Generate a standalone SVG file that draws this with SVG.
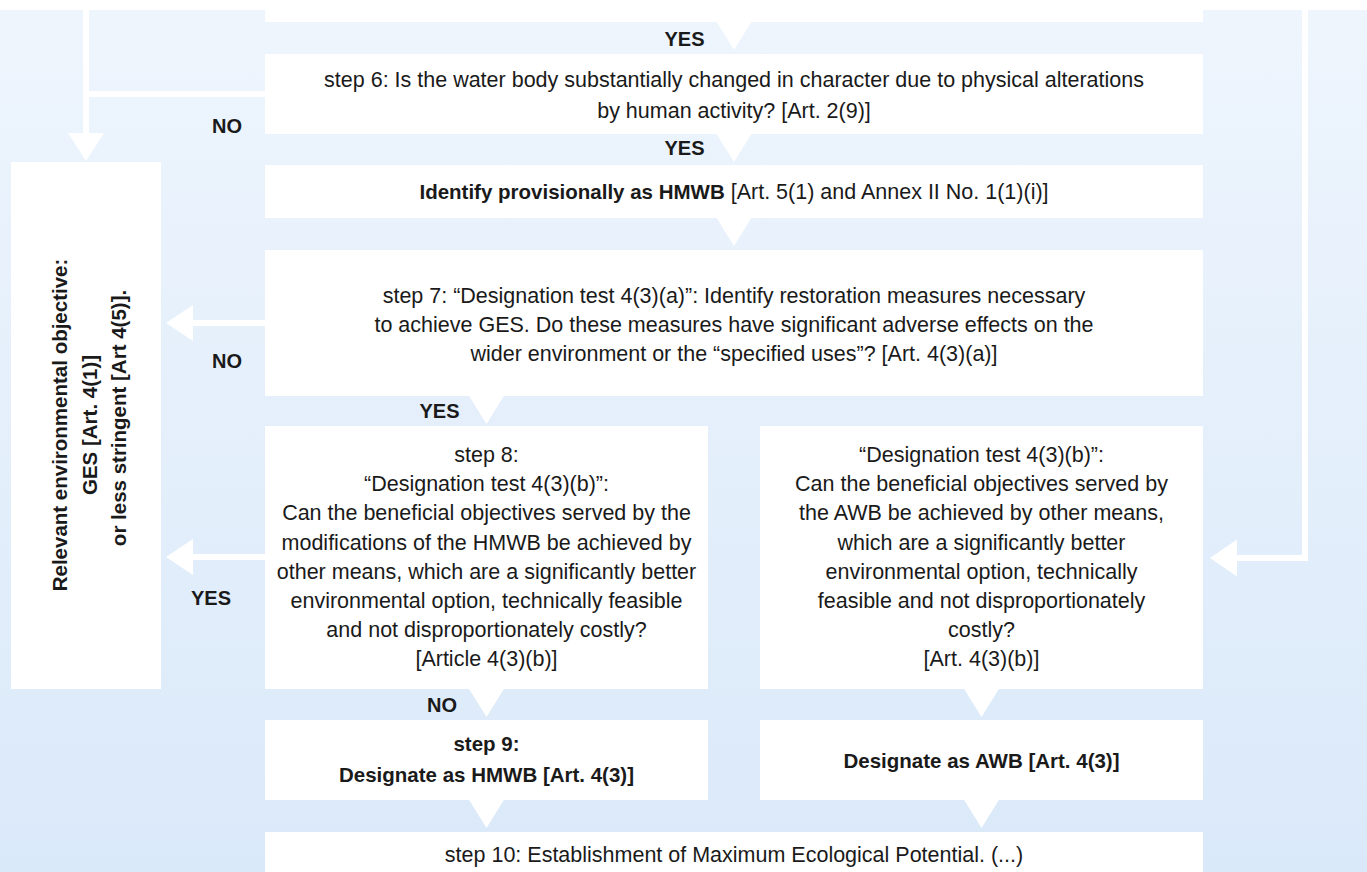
<svg xmlns="http://www.w3.org/2000/svg" width="1367" height="872" viewBox="0 0 1367 872">
<defs>
<linearGradient id="bg" x1="0" y1="0" x2="0" y2="1">
<stop offset="0" stop-color="#eef5fd"/>
<stop offset="1" stop-color="#dae9f9"/>
</linearGradient>
<style>
.box{fill:#ffffff}
.ln{fill:none;stroke:#ffffff;stroke-width:6;stroke-linejoin:miter}
.ah{fill:#ffffff}
.t{font-family:"Liberation Sans",Arial,sans-serif;font-size:21.5px;fill:#1a1a1a;text-anchor:middle}
.b{font-family:"Liberation Sans",Arial,sans-serif;font-size:20.5px;font-weight:bold;fill:#1a1a1a;text-anchor:middle}
.lbl{font-family:"Liberation Sans",Arial,sans-serif;font-size:20px;font-weight:bold;fill:#1a1a1a;text-anchor:middle}
</style>
</defs>
<rect x="0" y="0" width="1367" height="872" fill="#ffffff"/>
<rect x="0" y="10" width="1367" height="862" fill="url(#bg)"/>

<g id="connectors">
<path class="ln" d="M86,0 V134"/>
<polygon class="ah" points="68,133 104,133 86,161"/>
<path class="ln" d="M86,94 H266"/>
<path class="ln" d="M192,323 H266"/>
<polygon class="ah" points="193,305 193,341 166,323"/>
<path class="ln" d="M192,557 H266"/>
<polygon class="ah" points="193,539 193,575 166,557"/>
<path class="ln" d="M1305,0 V558 H1236"/>
<polygon class="ah" points="1237,539.5 1237,576.5 1210,558"/>
<polygon class="ah" points="716,21 752,21 734,50"/>
<polygon class="ah" points="716,133 752,133 734,162"/>
<polygon class="ah" points="716,217 752,217 734,246"/>
<polygon class="ah" points="468.5,395 504.5,395 486.5,424"/>
<polygon class="ah" points="468.5,688 504.5,688 486.5,717"/>
<polygon class="ah" points="963.5,688 999.5,688 981.5,717"/>
<polygon class="ah" points="468.5,799 504.5,799 486.5,828"/>
<polygon class="ah" points="963.5,799 999.5,799 981.5,828"/>
<text class="lbl" x="684.5" y="46">YES</text>
<text class="lbl" x="684.5" y="155">YES</text>
<text class="lbl" x="227" y="133">NO</text>
<text class="lbl" x="227" y="368">NO</text>
<text class="lbl" x="439.5" y="418">YES</text>
<text class="lbl" x="211" y="605">YES</text>
<text class="lbl" x="442" y="712">NO</text>
</g>

<g id="node-prev">
<rect class="box" x="265" y="0" width="938" height="22"/>
</g>

<g id="node-step6">
<rect class="box" x="265" y="54" width="938" height="80"/>
<text class="t" x="734" y="87">step 6: Is the water body substantially changed in character due to physical alterations</text>
<text class="t" x="734" y="117.5">by human activity? [Art. 2(9)]</text>
</g>

<g id="node-identify">
<rect class="box" x="265" y="165" width="938" height="53"/>
<text class="t" x="734" y="199"><tspan font-weight="bold" font-size="20.5px">Identify provisionally as HMWB</tspan> [Art. 5(1) and Annex II No. 1(1)(i)]</text>
</g>

<g id="node-step7">
<rect class="box" x="265" y="250" width="938" height="146"/>
<text class="t" x="734" y="302.5">step 7: “Designation test 4(3)(a)”: Identify restoration measures necessary</text>
<text class="t" x="734" y="331.5">to achieve GES. Do these measures have significant adverse effects on the</text>
<text class="t" x="734" y="360.5">wider environment or the “specified uses”? [Art. 4(3)(a)]</text>
</g>

<g id="node-step8">
<rect class="box" x="265" y="426" width="443" height="263"/>
<text class="t" x="486.5" y="462">step 8:</text>
<text class="t" x="486.5" y="491.2">“Designation test 4(3)(b)”:</text>
<text class="t" x="486.5" y="520.4">Can the beneficial objectives served by the</text>
<text class="t" x="486.5" y="549.6">modifications of the HMWB be achieved by</text>
<text class="t" x="486.5" y="578.8">other means, which are a significantly better</text>
<text class="t" x="486.5" y="608">environmental option, technically feasible</text>
<text class="t" x="486.5" y="637.2">and not disproportionately costly?</text>
<text class="t" x="486.5" y="666.4">[Article 4(3)(b)]</text>
</g>

<g id="node-awb-test">
<rect class="box" x="760" y="426" width="443" height="263"/>
<text class="t" x="981.5" y="462">“Designation test 4(3)(b)”:</text>
<text class="t" x="981.5" y="491.2">Can the beneficial objectives served by</text>
<text class="t" x="981.5" y="520.4">the AWB be achieved by other means,</text>
<text class="t" x="981.5" y="549.6">which are a significantly better</text>
<text class="t" x="981.5" y="578.8">environmental option, technically</text>
<text class="t" x="981.5" y="608">feasible and not disproportionately</text>
<text class="t" x="981.5" y="637.2">costly?</text>
<text class="t" x="981.5" y="666.4">[Art. 4(3)(b)]</text>
</g>

<g id="node-step9">
<rect class="box" x="265" y="720" width="443" height="80"/>
<text class="b" x="486.5" y="751">step 9:</text>
<text class="b" x="486.5" y="781.5">Designate as HMWB [Art. 4(3)]</text>
</g>

<g id="node-awb">
<rect class="box" x="760" y="720" width="443" height="80"/>
<text class="b" x="981.5" y="767.5">Designate as AWB [Art. 4(3)]</text>
</g>

<g id="node-step10">
<rect class="box" x="265" y="832" width="938" height="40"/>
<text class="t" x="734" y="862">step 10: Establishment of Maximum Ecological Potential. (...)</text>
</g>

<g id="node-objective">
<rect class="box" x="11" y="162" width="150" height="527"/>
<text class="b" transform="translate(67,425) rotate(-90)">Relevant environmental objective:</text>
<text class="b" transform="translate(96.5,425) rotate(-90)">GES [Art. 4(1)]</text>
<text class="b" transform="translate(126,418) rotate(-90)">or less stringent [Art 4(5)].</text>
</g>
</svg>
